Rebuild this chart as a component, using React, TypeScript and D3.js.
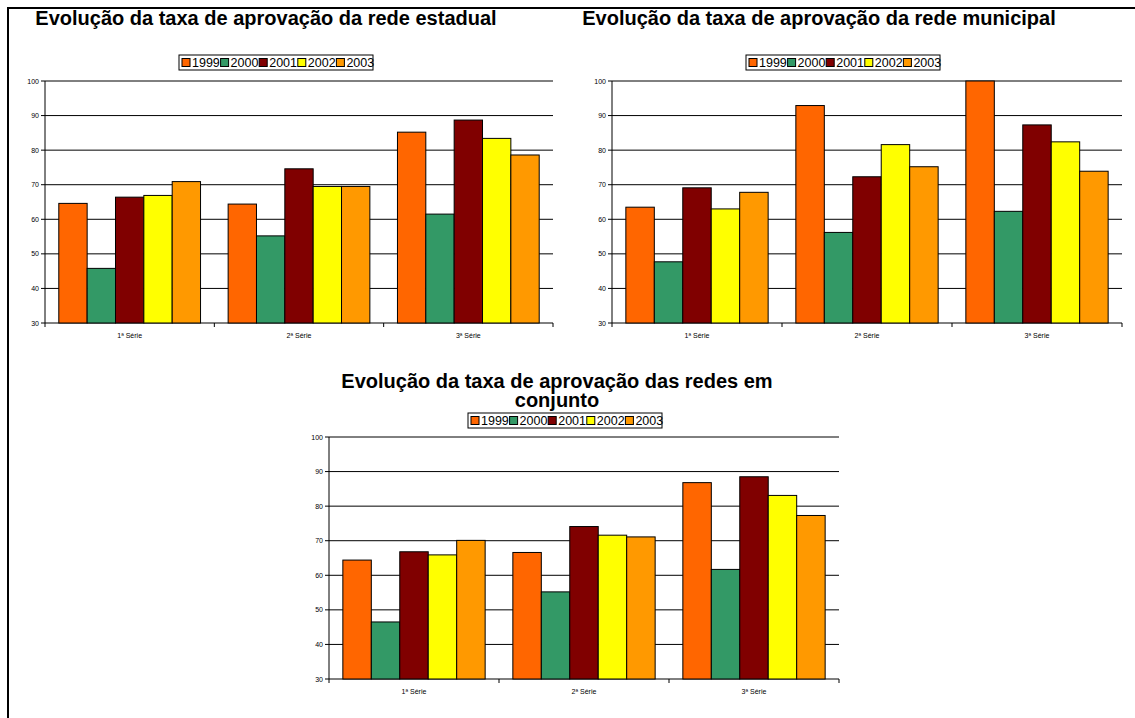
import React from "react";
import * as d3 from "d3";

const categories = ["1ª Série", "2ª Série", "3ª Série"];
const years = ["1999", "2000", "2001", "2002", "2003"];
const colors = ["#FF6600", "#339966", "#800000", "#FFFF00", "#FF9900"];
const yTicks = [30, 40, 50, 60, 70, 80, 90, 100];

// values per year, per category
const estadual = [
  [64.6, 64.4, 85.2],
  [45.8, 55.2, 61.5],
  [66.4, 74.6, 88.7],
  [66.9, 69.5, 83.4],
  [70.9, 69.5, 78.6],
];
const municipal = [
  [63.5, 92.9, 100],
  [47.7, 56.2, 62.3],
  [69.1, 72.3, 87.3],
  [63.0, 81.6, 82.4],
  [67.8, 75.2, 73.9],
];
const conjunto = [
  [64.4, 66.6, 86.8],
  [46.5, 55.2, 61.7],
  [66.8, 74.1, 88.5],
  [65.9, 71.6, 83.1],
  [70.1, 71.1, 77.3],
];

const FONT = "'Liberation Sans', Arial, sans-serif";

type ChartProps = {
  left: number;
  top: number;
  width: number;
  height: number;
  data: number[][];
  title: string[];
  titleX: number;
  titleY: number;
  legendX: number;
  legendY: number;
};

function Chart({ left, top, width, height, data, title, titleX, titleY, legendX, legendY }: ChartProps) {
  const x0 = d3.scaleBand<string>().domain(categories).range([left, left + width]).paddingInner(0.163).paddingOuter(0.0815);
  const x1 = d3.scaleBand<string>().domain(years).range([0, x0.bandwidth()]);
  const y = d3.scaleLinear().domain([30, 100]).range([top + height, top]);
  const step = width / categories.length;
  const legW = 38.6;
  return (
    <g>
      {title.map((t, i) => (
        <text key={i} x={titleX} y={titleY + i * 19} textAnchor="middle" fontFamily={FONT} fontWeight="bold" fontSize={20} fill="#000">
          {t}
        </text>
      ))}
      <g>
        <rect x={legendX} y={legendY} width={legW * 5 + 1} height={15} fill="#fff" stroke="#000" strokeWidth={1} />
        {years.map((yr, i) => (
          <g key={yr}>
            <rect x={legendX + 3 + i * legW} y={legendY + 3.5} width={8} height={8} fill={colors[i]} stroke="#000" strokeWidth={1} />
            <text x={legendX + 13 + i * legW} y={legendY + 12} fontFamily={FONT} fontSize={12.5} fill="#000">
              {yr}
            </text>
          </g>
        ))}
      </g>
      {yTicks.map((t) => (
        <g key={t}>
          <line x1={left} x2={left + width} y1={y(t)} y2={y(t)} stroke="#000" strokeWidth={1} />
          <line x1={left - 4} x2={left} y1={y(t)} y2={y(t)} stroke="#000" strokeWidth={1} />
          <text x={left - 6} y={y(t) + 2.5} textAnchor="end" fontFamily={FONT} fontSize={7} fill="#000">
            {t}
          </text>
        </g>
      ))}
      <line x1={left} x2={left} y1={top} y2={top + height} stroke="#000" strokeWidth={1} />
      {d3.range(categories.length + 1).map((i) => (
        <line key={i} x1={left + i * step} x2={left + i * step} y1={top + height} y2={top + height + 4} stroke="#000" strokeWidth={1} />
      ))}
      {categories.map((c, ci) => (
        <g key={c}>
          {years.map((yr, si) => (
            <rect
              key={yr}
              x={(x0(c) as number) + (x1(yr) as number)}
              y={y(data[si][ci])}
              width={x1.bandwidth()}
              height={y(30) - y(data[si][ci])}
              fill={colors[si]}
              stroke="#000"
              strokeWidth={1}
            />
          ))}
          <text x={left + (ci + 0.5) * step} y={top + height + 15} textAnchor="middle" fontFamily={FONT} fontSize={7} fill="#000">
            {c}
          </text>
        </g>
      ))}
    </g>
  );
}

export default function App() {
  return (
    <svg width={1135} height={718} style={{ position: "absolute", left: 0, top: 0, background: "#fff" }}>
      <rect x={0} y={0} width={1135} height={718} fill="#fff" />
      <line x1={7} x2={1135} y1={8} y2={8} stroke="#000" strokeWidth={2} />
      <line x1={8} x2={8} y1={7} y2={718} stroke="#000" strokeWidth={2} />
      <Chart left={45} top={81} width={508} height={242} data={estadual}
        title={["Evolução da taxa de aprovação da rede estadual"]} titleX={266} titleY={25} legendX={179} legendY={55} />
      <Chart left={612} top={81} width={510} height={242} data={municipal}
        title={["Evolução da taxa de aprovação da rede municipal"]} titleX={819} titleY={25} legendX={746} legendY={55} />
      <Chart left={329} top={437} width={510} height={242} data={conjunto}
        title={["Evolução da taxa de aprovação das redes em", "conjunto"]} titleX={557} titleY={388} legendX={468} legendY={413} />
    </svg>
  );
}
